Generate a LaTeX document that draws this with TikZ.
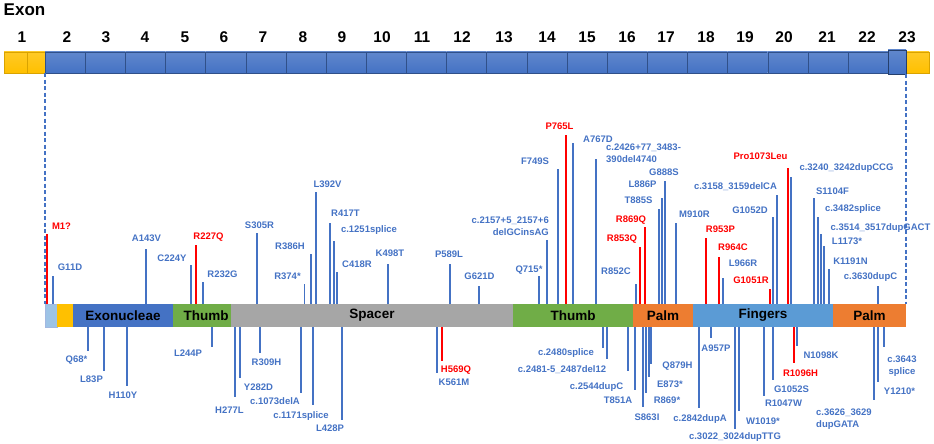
\documentclass[tikz,border=0pt]{standalone}
\usepackage{fontspec}
\setmainfont{Liberation Sans}
\usepackage{xcolor}
\usetikzlibrary{positioning}

\definecolor{mutblue}{HTML}{4472C4}
\definecolor{mutred}{HTML}{FF0000}
\definecolor{exblue}{HTML}{4472C4}
\definecolor{exyellow}{HTML}{FFC000}
\definecolor{leadblue}{HTML}{9DC3E6}
\definecolor{thumbgreen}{HTML}{70AD47}
\definecolor{spacergray}{HTML}{A6A6A6}
\definecolor{palmorange}{HTML}{ED7D31}
\definecolor{fingerblue}{HTML}{5B9BD5}

\begin{document}
\begin{tikzpicture}[
    x=1pt, y=-1pt,
    font=\bfseries,
    exonbox/.style={
      draw=exblue!70!black,
      line width=0.4pt,
      inner sep=0pt, outer sep=0pt,
      minimum width=40.15pt,
      minimum height=21pt,
      top color=exblue!85!white,
      bottom color=exblue,
      anchor=west
    },
    yellowbox/.style={exonbox, draw=exyellow!85!black, top color=exyellow!85!white, bottom color=exyellow},
    exnum/.style={font=\bfseries\fontsize{15.5}{16}\selectfont, inner sep=0pt},
    dombox/.style={
      inner sep=0pt, outer sep=0pt,
      minimum height=23pt,
      font=\bfseries\fontsize{13.5}{14}\selectfont
    },
    stick/.style={line width=1.2pt},
    lbl/.style={font=\bfseries\fontsize{9.5}{12}\selectfont, inner sep=0pt, anchor=base, yshift=-3.4pt},
    lbltwo/.style={font=\bfseries\fontsize{9.5}{12}\selectfont, inner sep=0pt, text=mutblue},
    dashline/.style={mutblue, line width=1.4pt, dash pattern=on 4pt off 2.5pt}
  ]
  \useasboundingbox (0,0) rectangle (934,444);

  % --- exon bar ---
  \node[font=\bfseries\fontsize{17}{18}\selectfont, inner sep=0pt] (exontitle) at (24.5,10) {Exon};
  \node[yellowbox, minimum width=23pt] (ex1a) at (4,62.5) {};
  \node[yellowbox, minimum width=18pt] (ex1) at (27,62.5) {};
  \foreach \i in {2,...,22}
    \node[exonbox] (ex\i) at ({45+(\i-2)*40.15},62.5) {};
  \node[yellowbox, minimum width=23pt] (ex23b) at (906,62.5) {};
  \node[exonbox, minimum width=18pt, minimum height=24pt, draw=exblue!55!black] (ex23) at (888,62) {};

  \foreach \n/\x in {1/22,2/67,3/106,4/145,5/185,6/224,7/263,8/303,9/342,10/382,11/422,12/462,
                     13/504,14/547,15/587,16/627,17/666,18/706,19/745,20/784,21/827,22/867,23/907}
    \node[exnum] (num\n) at (\x,37) {\n};

  % --- domain bar ---
  \node[dombox, anchor=west, minimum width=12pt, fill=leadblue, draw=mutblue!50, line width=0.4pt] (dlead) at (45,315.5) {};
  \node[dombox, minimum width=16pt, fill=exyellow, right=0pt of dlead] (dsig) {};
  \node[dombox, minimum width=100pt, fill=exblue, right=0pt of dsig] (exo) {Exonucleae};
  \node[dombox, minimum width=58pt, fill=thumbgreen, right=0pt of exo] (thumba) {\hspace*{8pt}Thumb};
  \node[dombox, minimum width=282pt, fill=spacergray, right=0pt of thumba] (spacer) {Spacer};
  \node[dombox, minimum width=120pt, fill=thumbgreen, right=0pt of spacer] (thumbb) {Thumb};
  \node[dombox, minimum width=60pt, fill=palmorange, right=0pt of thumbb] (palma) {Palm};
  \node[dombox, minimum width=140pt, fill=fingerblue, right=0pt of palma] (fingers) {Fingers};
  \node[dombox, minimum width=73pt, fill=palmorange, right=0pt of fingers] (palmb) {Palm};

  % --- zoom lines ---
  \draw[dashline] (ex2.south west) -- (dlead.north west);
  \draw[dashline] (ex23.south east) -- (palmb.north east);

  % --- variants above the bar ---
  \foreach \x/\y/\lx/\ly/\txt/\c [count=\i] in {
      47/234/61.5/226/M1?/mutred,
      53/276/70/267/G11D/mutblue,
      146/249/146.5/238/A143V/mutblue,
      191/265/172/258/C224Y/mutblue,
      196/245/208.5/236/R227Q/mutred,
      203/282/222.5/274/R232G/mutblue,
      257/233/259.5/225/S305R/mutblue,
      304.5/284/287.5/276/R374*/mutblue,
      311/254/290/246/R386H/mutblue,
      316/192/327.5/184/L392V/mutblue,
      330/223/345.5/213/R417T/mutblue,
      334/241/369/229/c.1251splice/mutblue,
      337/272/357/264/C418R/mutblue,
      388/264/390/253/K498T/mutblue,
      450/264/449/254/P589L/mutblue,
      479/286/479.5/276/G621D/mutblue,
      539/276/529/269/Q715*/mutblue,
      558/169/535/161/F749S/mutblue,
      566/135/559.5/126/P765L/mutred,
      573/143/598/139/A767D/mutblue,
      636/284/616/271/R852C/mutblue,
      640/247/622/238/R853Q/mutred,
      645/227/631/219/R869Q/mutred,
      659/209/638.5/200/T885S/mutblue,
      662/198/642.5/184/L886P/mutblue,
      665/181/664/172/G888S/mutblue,
      676/223/694.5/214/M910R/mutblue,
      706/238/720.5/229/R953P/mutred,
      719/257/733/247/R964C/mutred,
      723/278/743/263/L966R/mutblue,
      770/289/751/280/G1051R/mutred,
      773/217/750/210/G1052D/mutblue,
      777/195/735.5/186/c.3158\_3159delCA/mutblue,
      788/168/760.5/156/Pro1073Leu/mutred,
      791/177/846.5/167/c.3240\_3242dupCCG/mutblue,
      814/198/832.5/191/S1104F/mutblue,
      818/217/853/208/c.3482splice/mutblue,
      821/234/880.5/227/c.3514\_3517dupGACT/mutblue,
      824/246/847/241/L1173*/mutblue,
      829/269/850.5/261/K1191N/mutblue,
      878/286/870.5/276/c.3630dupC/mutblue} {
    \coordinate (up\i-b) at (\x,304);
    \coordinate (up\i-t) at (\x,\y);
    \draw[stick, \c] (up\i-b) -- (up\i-t);
    \node[lbl, text=\c] (up\i) at (\lx,\ly) {\txt};
  }

  \coordinate (splA-b) at (547,304);
  \coordinate (splA-t) at (547,240);
  \draw[stick, mutblue] (splA-b) -- (splA-t);
  \node[lbltwo, align=right, anchor=north east] (splA) at (549,216.6) {c.2157+5\_2157+6\\delGCinsAG};

  \coordinate (delA-b) at (596,304);
  \coordinate (delA-t) at (596,159);
  \draw[stick, mutblue] (delA-b) -- (delA-t);
  \node[lbltwo, align=left, anchor=north west] (delA) at (606,143.6) {c.2426+77\_3483-\\390del4740};

  % --- variants below the bar ---
  \foreach \x/\y/\lx/\ly/\txt/\c [count=\i] in {
      88/351/76.5/359/Q68*/mutblue,
      104/371/91.5/379/L83P/mutblue,
      127/386/123/395/H110Y/mutblue,
      212/347/188/353/L244P/mutblue,
      235/397/229.5/410/H277L/mutblue,
      240/378/258.5/387/Y282D/mutblue,
      260/353/266.5/362/R309H/mutblue,
      301/393/275/401/c.1073delA/mutblue,
      313/405/301/415/c.1171splice/mutblue,
      342/420/330/428/L428P/mutblue,
      437/373/454/382/K561M/mutblue,
      442/361/456/369/H569Q/mutred,
      603/348/566/352/c.2480splice/mutblue,
      607/359/562/369/c.2481-5\_2487del12/mutblue,
      628/371/596.5/386/c.2544dupC/mutblue,
      635/390/618/400/T851A/mutblue,
      643/407/647/417/S863I/mutblue,
      646/393/667/400/R869*/mutblue,
      649/377/670/384/E873*/mutblue,
      651/364/677.5/365/Q879H/mutblue,
      699/408/700/418/c.2842dupA/mutblue,
      711/338/716/348/A957P/mutblue,
      735/429/735/436/c.3022\_3024dupTTG/mutblue,
      739/411/763/421/W1019*/mutblue,
      764/396/783.5/403/R1047W/mutblue,
      773/380/791.5/389/G1052S/mutblue,
      794/363/800.5/373/R1096H/mutred,
      797/346/821/355/N1098K/mutblue,
      878/382/899.5/391/Y1210*/mutblue} {
    \coordinate (dn\i-b) at (\x,327);
    \coordinate (dn\i-t) at (\x,\y);
    \draw[stick, \c] (dn\i-b) -- (dn\i-t);
    \node[lbl, text=\c] (dn\i) at (\lx,\ly) {\txt};
  }

  \coordinate (dupB-b) at (874,327);
  \coordinate (dupB-t) at (874,400);
  \draw[stick, mutblue] (dupB-b) -- (dupB-t);
  \node[lbltwo, align=left, anchor=north west] (dupB) at (816,408.6) {c.3626\_3629\\dupGATA};

  \coordinate (splB-b) at (884,327);
  \coordinate (splB-t) at (884,347);
  \draw[stick, mutblue] (splB-b) -- (splB-t);
  \node[lbltwo, align=center, anchor=north] (splB) at (902,355.6) {c.3643\\splice};

\end{tikzpicture}
\end{document}
